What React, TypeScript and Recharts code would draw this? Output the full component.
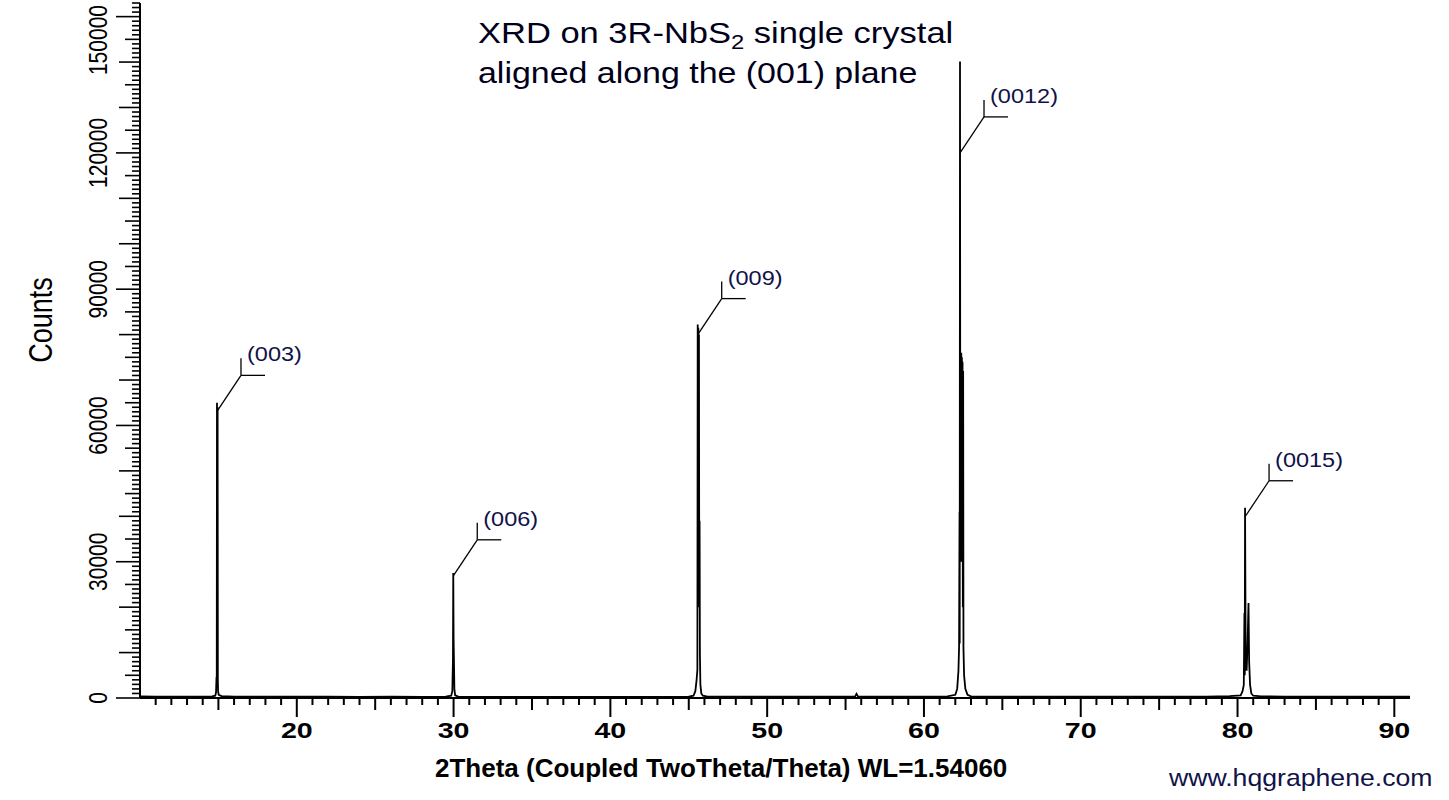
import React from 'react';
import { ComposedChart, Line, Scatter, XAxis, YAxis } from 'recharts';

// ---- data ----
const twoTheta = [
  10.0, 11.0, 12.0, 13.0, 14.0, 14.6, 14.8, 14.85, 14.88, 14.895, 14.91, 14.93, 14.95, 14.965, 14.98, 15.02, 15.2, 16.0, 17.0, 18.5,
  20.0, 22.0, 24.0, 26.0, 28.0, 29.5, 29.85, 29.92, 29.96, 29.98, 30.0, 30.02, 30.05, 30.1, 30.3,
  32.0, 34.0, 36.0, 38.0, 40.0, 42.0, 44.0, 45.0, 45.3, 45.42, 45.5, 45.55, 45.57, 45.59, 45.61, 45.63, 45.65, 45.67, 45.69,
  45.71, 45.74, 45.8, 45.9, 46.2, 48.0, 50.0, 52.0, 54.0, 55.6, 55.7, 55.8, 57.0, 59.0, 61.0, 61.5, 62.0, 62.12, 62.2,
  62.24, 62.27, 62.28, 62.3, 62.32, 62.34, 62.36, 62.38, 62.4, 62.42, 62.44, 62.46, 62.48, 62.5, 62.52, 62.56, 62.64, 62.78, 63.0,
  64.0, 66.0, 68.0, 70.0, 72.0, 74.0, 76.0, 78.0, 79.5, 80.2, 80.32, 80.4, 80.44, 80.46, 80.48, 80.52, 80.58, 80.64,
  80.7, 80.74, 80.8, 80.88, 81.0, 81.5, 83.0, 85.0, 87.0, 89.0, 91.0,
];
const counts = [
  350, 300, 320, 290, 300, 350, 500, 1200, 4600, 3000, 65000, 40000, 64000, 4000, 1500, 700, 400, 320, 300, 290,
  280, 270, 260, 270, 260, 300, 500, 1500, 8400, 27500, 13400, 9000, 2000, 600, 300,
  260, 250, 260, 250, 240, 250, 260, 300, 500, 1500, 4000, 6200, 82200, 40000, 81500, 39900, 80000, 20000, 39000,
  10000, 3000, 1000, 500, 300, 280, 270, 280, 290, 300, 900, 300, 290, 300, 320, 350, 700, 2000, 6000,
  11200, 41000, 12000, 140100, 30000, 76000, 30000, 76000, 30000, 75000, 30000, 74000, 20000, 72000, 11000, 5000, 2000, 700, 350,
  300, 280, 290, 300, 290, 300, 310, 320, 400, 600, 1500, 2900, 18700, 5000, 41900, 8000, 6000, 12000,
  20900, 8000, 2900, 1000, 500, 350, 320, 310, 300, 300, 300,
];

const peakLabelTheta = [14.91, 29.98, 45.57, 62.3, 80.48];
const peakLabelCounts = [63100, 26900, 80000, 120000, 39900];
const peakLabelText = ['(003)', '(006)', '(009)', '(0012)', '(0015)'];

const xLabelTicks = [20, 30, 40, 50, 60, 70, 80, 90];
const yLabelTicks = [0, 30000, 60000, 90000, 120000, 150000];

const xTicks: number[] = [];
for (let v = 11; v <= 90; v++) xTicks.push(v);
const yTicks: number[] = [];
for (let v = 0; v <= 153000; v += 1000) yTicks.push(v);

const spectrum = twoTheta.map((t, i) => ({ x: t, y: counts[i] }));
const peakLabels = peakLabelTheta.map((t, i) => ({ x: t, y: peakLabelCounts[i], label: peakLabelText[i] }));

const FONT = '"Liberation Sans", Arial, Helvetica, sans-serif';
const LABEL_COLOR = '#12124a';

function XTick(props: any) {
  const { x, y, payload } = props;
  const v = payload.value;
  const len = v % 10 === 0 ? 19 : v % 5 === 0 ? 12 : 7;
  return (
    <g>
      <line x1={x} x2={x} y1={y} y2={y + len} stroke="#000" strokeWidth={2} />
      {xLabelTicks.includes(v) && (
        <text
          transform={`translate(${x},${y + 40}) scale(1.3,1)`}
          textAnchor="middle"
          fontFamily={FONT}
          fontWeight="bold"
          fontSize={22}
          fill="#000"
        >
          {v}
        </text>
      )}
    </g>
  );
}

function YTick(props: any) {
  const { x, y, payload } = props;
  const v = payload.value;
  const len = v % 30000 === 0 ? 24 : v % 10000 === 0 ? 21 : v % 5000 === 0 ? 15 : 8;
  const isLabel = yLabelTicks.includes(v);
  const fs = 21;
  const halfLen = (String(v).length * 0.556 * fs) / 2;
  const clamp = y - halfLen < 5;
  return (
    <g>
      <line x1={x} x2={x - len} y1={y} y2={y} stroke="#000" strokeWidth={1.6} />
      {isLabel && (
        <text
          transform={`translate(${x - 33},${clamp ? 5 : y}) scale(1.27,1) rotate(-90)`}
          textAnchor={clamp ? 'end' : 'middle'}
          fontFamily={FONT}
          fontSize={fs}
          fill="#000"
        >
          {v}
        </text>
      )}
    </g>
  );
}

function PeakLabel(props: any) {
  const { cx, cy, payload } = props;
  if (cx == null || cy == null) return <g />;
  const ex = cx + 24;
  const ey = cy - 36;
  return (
    <g>
      <line x1={cx} y1={cy} x2={ex} y2={ey} stroke="#000" strokeWidth={1.3} />
      <line x1={ex} y1={ey} x2={ex} y2={ey - 17} stroke="#000" strokeWidth={1.3} />
      <line x1={ex} y1={ey} x2={ex + 24} y2={ey} stroke="#000" strokeWidth={1.3} />
      <text
        transform={`translate(${ex + 6},${ey - 14}) scale(1.12,1)`}
        fontFamily={FONT}
        fontSize={21}
        fill={LABEL_COLOR}
      >
        {payload.label}
      </text>
    </g>
  );
}

export default function App() {
  return (
    <div style={{ position: 'absolute', left: 0, top: 0, width: 1449, height: 800, background: '#fff' }}>
      <ComposedChart width={1449} height={800} margin={{ top: 3, right: 39, bottom: 0, left: 0 }}>
        <XAxis
          type="number"
          dataKey="x"
          domain={[10, 91]}
          allowDataOverflow
          ticks={xTicks}
          interval={0}
          tick={XTick}
          tickLine={false}
          tickSize={0}
          tickMargin={0}
          height={102}
          axisLine={{ stroke: '#000', strokeWidth: 2 }}
        />
        <YAxis
          type="number"
          dataKey="y"
          domain={[0, 153000]}
          allowDataOverflow
          ticks={yTicks}
          interval={0}
          tick={YTick}
          tickLine={false}
          tickSize={0}
          tickMargin={0}
          width={140}
          axisLine={{ stroke: '#000', strokeWidth: 2 }}
        />
        <Line
          data={spectrum}
          dataKey="y"
          type="linear"
          stroke="#000"
          strokeWidth={1.8}
          dot={false}
          activeDot={false}
          isAnimationActive={false}
        />
        <Scatter data={peakLabels} dataKey="y" shape={PeakLabel} isAnimationActive={false} />
      </ComposedChart>
      <svg
        width={1449}
        height={800}
        style={{ position: 'absolute', left: 0, top: 0, pointerEvents: 'none' }}
      >
        <text transform="translate(478,43) scale(1.19,1)" fontFamily={FONT} fontSize={29} fill="#00001a">
          XRD on 3R-NbS
          <tspan fontSize={20} dy={6}>2</tspan>
          <tspan dy={-6}> single crystal</tspan>
        </text>
        <text transform="translate(478,83) scale(1.17,1)" fontFamily={FONT} fontSize={29} fill="#00001a">
          aligned along the (001) plane
        </text>
        <text
          transform="translate(52,320) scale(1.25,1) rotate(-90)"
          textAnchor="middle"
          fontFamily={FONT}
          fontSize={27}
          fill="#000"
        >
          Counts
        </text>
        <text transform="translate(435,777)" fontFamily={FONT} fontSize={26} fontWeight="bold" fill="#000">
          2Theta (Coupled TwoTheta/Theta) WL=1.54060
        </text>
        <text transform="translate(1169,786) scale(1.11,1)" fontFamily={FONT} fontSize={24} fill={LABEL_COLOR}>
          www.hqgraphene.com
        </text>
      </svg>
    </div>
  );
}
